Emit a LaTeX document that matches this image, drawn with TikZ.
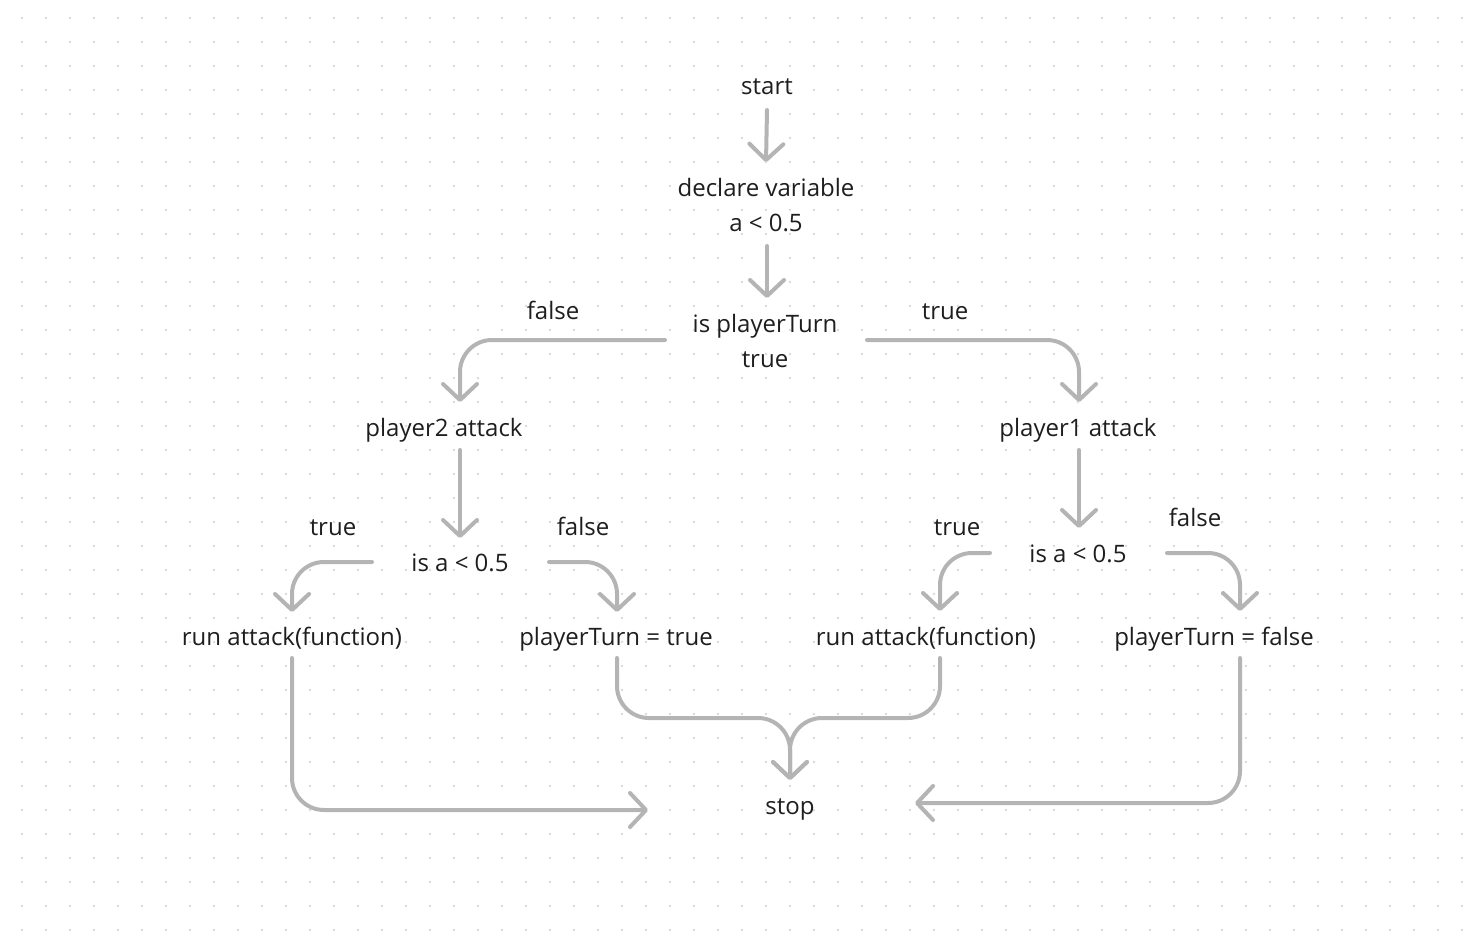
\documentclass[tikz,border=0pt]{standalone}
\usepackage{fontspec}
\setmainfont{Open Sans}
\usetikzlibrary{arrows.meta}
\definecolor{linegray}{HTML}{B4B4B4}
\definecolor{dotgray}{HTML}{DADADA}
\definecolor{ink}{HTML}{1E1E1E}
\tikzset{
  lbltwo/.style={inner sep=0pt, text=ink, font=\fontsize{24}{35}\selectfont, align=center},
  lbl/.style={lbltwo, text height=22pt, text depth=4pt},
  arr/.style={draw=linegray, line width=4pt, line cap=round, line join=round, rounded corners=32pt,
    -{Straight Barb[length=16pt,width=34pt,round]}}
}
\begin{document}
\begin{tikzpicture}[x=1pt,y=-1pt]
\fill[white] (0,0) rectangle (1475,947);
\useasboundingbox (0,0) rectangle (1475,947);
\foreach \i in {0,...,61}{\foreach \j in {0,...,38}{
  \fill[dotgray] (22+24*\i,18+24*\j) circle (1.3);}}
% nodes
\node[lbl] (start) at (767,86) {start};
\node[lbltwo] (decl) at (766,205) {declare variable\\a < 0.5};
\node[lbltwo] (isp) at (765,341) {is playerTurn\\true};
\node[lbl] (lfalse) at (553,310) {false};
\node[lbl] (rtrue) at (945,310) {true};
\node[lbl] (p2) at (444,427) {player2 attack};
\node[lbl] (p1) at (1078,427) {player1 attack};
\node[lbl] (ca) at (460,562) {is a < 0.5};
\node[lbl] (cb) at (1078,553) {is a < 0.5};
\node[lbl] (t1) at (333,526) {true};
\node[lbl] (f1) at (583,526) {false};
\node[lbl] (t2) at (957,526) {true};
\node[lbl] (f2) at (1195,517) {false};
\node[lbl] (r1) at (292,636) {run attack(function)};
\node[lbl] (pt) at (616,636) {playerTurn = true};
\node[lbl] (r2) at (926,636) {run attack(function)};
\node[lbl] (pf) at (1214,636) {playerTurn = false};
\node[lbl] (stop) at (790,805) {stop};
% connectors
\draw[arr] ([yshift=-24pt]start.center) -- ([yshift=43pt]decl.center);
\draw[arr] ([xshift=1pt,yshift=-41pt]decl.center) -- ([xshift=2pt,yshift=43pt]isp.center);
\draw[arr] ([xshift=-100pt,yshift=1pt]isp.center) -| ([xshift=16pt,yshift=25pt]p2.center);
\draw[arr] ([xshift=102pt,yshift=1pt]isp.center) -| ([xshift=1pt,yshift=25pt]p1.center);
\draw[arr] ([xshift=16pt,yshift=-23pt]p2.center) -- ([yshift=24pt]ca.center);
\draw[arr] ([xshift=1pt,yshift=-23pt]p1.center) -- ([xshift=1pt,yshift=25pt]cb.center);
\draw[arr] ([xshift=-88pt]ca.center) -| ([yshift=24pt]r1.center);
\draw[arr] ([xshift=89pt]ca.center) -| ([xshift=1pt,yshift=24pt]pt.center);
\draw[arr] ([xshift=-88pt]cb.center) -| ([xshift=14pt,yshift=25pt]r2.center);
\draw[arr] ([xshift=89pt]cb.center) -| ([xshift=26pt,yshift=25pt]pf.center);
\draw[arr] ([yshift=-22pt]r1.center) |- ([xshift=-142pt,yshift=-5pt]stop.center);
\draw[arr] ([xshift=1pt,yshift=-22pt]pt.center) |- ([yshift=87pt]stop.center) -- ([yshift=25pt]stop.center);
\draw[arr] ([xshift=14pt,yshift=-22pt]r2.center) |- ([yshift=87pt]stop.center) -- ([yshift=25pt]stop.center);
\draw[arr] ([xshift=26pt,yshift=-22pt]pf.center) |- ([xshift=125pt,yshift=2pt]stop.center);
\end{tikzpicture}
\end{document}
